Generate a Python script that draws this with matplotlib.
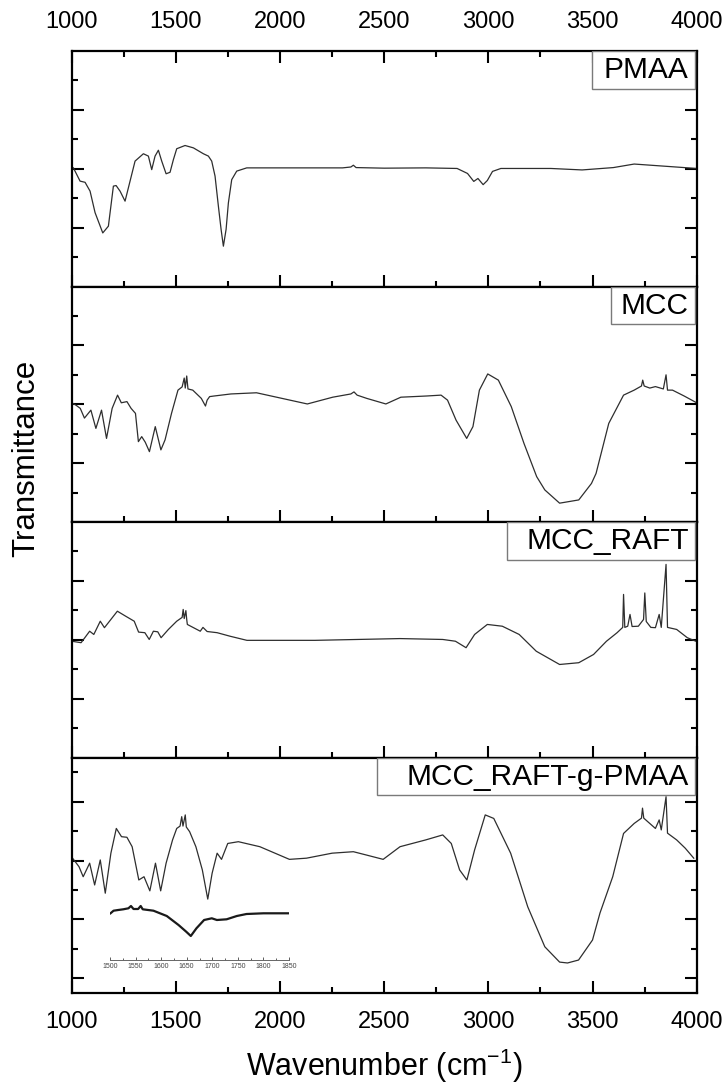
import matplotlib
matplotlib.use("Agg")
import matplotlib.pyplot as plt
from matplotlib.patches import Rectangle
from matplotlib.ticker import MultipleLocator, FixedLocator

plt.rcParams['font.family'] = ['Liberation Sans', 'DejaVu Sans']
plt.rcParams['mathtext.fontset'] = 'custom'
plt.rcParams['mathtext.rm'] = 'Liberation Sans'
plt.rcParams['mathtext.it'] = 'Liberation Sans:italic'

# spectra (wavenumber, transmittance in arbitrary panel units)
pmaa_wn = [1008, 1040, 1064, 1088, 1112, 1149, 1176, 1200, 1213, 1232, 1256, 1280, 1304, 1344,
           1368, 1384, 1400, 1416, 1432, 1453, 1472, 1488, 1504, 1544, 1584, 1632, 1656, 1672,
           1688, 1704, 1717, 1728, 1741, 1752, 1768, 1792, 1840, 2000, 2300, 2340, 2352, 2365,
           2500, 2700, 2850, 2900, 2930, 2950, 2975, 2995, 3020, 3060, 3300, 3450, 3600, 3700,
           3800, 3900, 4000]
pmaa_t = [4.03, 3.58, 3.54, 3.24, 2.51, 1.82, 2.05, 3.41, 3.43, 3.24, 2.90, 3.58, 4.26, 4.51,
          4.43, 3.97, 4.43, 4.63, 4.26, 3.83, 3.88, 4.31, 4.68, 4.79, 4.71, 4.51, 4.43, 4.26,
          3.75, 2.73, 1.94, 1.37, 1.94, 2.84, 3.63, 3.92, 4.03, 4.03, 4.03, 4.06, 4.12, 4.04,
          4.02, 4.03, 4.01, 3.84, 3.57, 3.67, 3.46, 3.60, 3.91, 4.01, 4.01, 3.96, 4.04, 4.16,
          4.11, 4.06, 4.01]

mcc_wn = [1000, 1020, 1041, 1061, 1092, 1116, 1143, 1167, 1194, 1220, 1238, 1265, 1285, 1306,
          1320, 1336, 1353, 1373, 1401, 1428, 1448, 1479, 1510, 1530, 1540, 1545, 1552, 1558,
          1581, 1622, 1642, 1650, 1662, 1683, 1764, 1887, 2009, 2131, 2253, 2340, 2355, 2370,
          2416, 2508, 2580, 2702, 2773, 2804, 2845, 2896, 2926, 2957, 2997, 3048, 3110, 3171,
          3232, 3271, 3342, 3434, 3495, 3517, 3578, 3649, 3700, 3735, 3741, 3748, 3775, 3802,
          3840, 3853, 3860, 3884, 3940, 4000]
mcc_t = [4.05, 3.97, 3.86, 3.53, 3.80, 3.18, 3.80, 2.84, 3.86, 4.31, 4.05, 4.09, 3.86, 3.69,
         2.73, 2.90, 2.71, 2.39, 3.24, 2.45, 2.79, 3.69, 4.48, 4.59, 4.89, 4.55, 4.96, 4.52,
         4.48, 4.20, 3.94, 4.14, 4.26, 4.28, 4.35, 4.39, 4.20, 4.01, 4.24, 4.35, 4.42, 4.31,
         4.20, 4.01, 4.24, 4.28, 4.31, 4.14, 3.46, 2.84, 3.24, 4.48, 5.03, 4.82, 3.92, 2.67,
         1.54, 1.09, 0.64, 0.75, 1.31, 1.65, 3.35, 4.31, 4.48, 4.62, 4.82, 4.62, 4.55, 4.60,
         4.52, 5.00, 4.48, 4.48, 4.28, 4.05]

raft_wn = [1000, 1045, 1086, 1106, 1137, 1157, 1219, 1259, 1300, 1321, 1351, 1372, 1392, 1413,
           1429, 1464, 1504, 1530, 1535, 1540, 1548, 1552, 1555, 1617, 1630, 1650, 1698, 1760,
           1841, 2168, 2576, 2781, 2842, 2893, 2934, 2995, 3067, 3148, 3230, 3342, 3434, 3505,
           3567, 3618, 3645, 3649, 3655, 3669, 3680, 3690, 3720, 3745, 3751, 3758, 3780, 3802,
           3820, 3830, 3853, 3860, 3904, 3955, 3996]
raft_t = [3.95, 3.90, 4.29, 4.18, 4.63, 4.41, 4.97, 4.80, 4.63, 4.26, 4.24, 4.01, 4.29, 4.27,
          4.07, 4.35, 4.63, 4.76, 5.03, 4.72, 4.99, 4.69, 4.52, 4.29, 4.42, 4.28, 4.24, 4.12,
          3.98, 3.98, 4.04, 4.01, 3.95, 3.73, 4.18, 4.52, 4.46, 4.18, 3.61, 3.16, 3.22, 3.50,
          3.95, 4.24, 4.42, 5.54, 4.42, 4.46, 4.86, 4.45, 4.46, 4.69, 5.59, 4.62, 4.42, 4.41,
          4.86, 4.42, 6.56, 4.42, 4.35, 4.07, 3.95]

graft_wn = [1004, 1035, 1055, 1086, 1110, 1137, 1161, 1188, 1214, 1239, 1265, 1290, 1322, 1347,
            1375, 1402, 1427, 1453, 1484, 1504, 1520, 1528, 1534, 1545, 1550, 1566, 1596, 1627,
            1653, 1674, 1698, 1719, 1749, 1800, 1903, 2045, 2127, 2250, 2352, 2413, 2495, 2576,
            2699, 2781, 2822, 2862, 2897, 2934, 2985, 3026, 3107, 3189, 3271, 3342, 3380, 3433,
            3500, 3536, 3597, 3649, 3700, 3735, 3740, 3746, 3802, 3820, 3830, 3853, 3860, 3904,
            3945, 3986]
graft_t = [4.08, 3.79, 3.45, 3.91, 3.17, 4.02, 2.89, 4.25, 5.09, 4.81, 4.79, 4.47, 3.34, 3.45,
           2.97, 3.91, 2.97, 3.91, 4.70, 5.09, 5.17, 5.49, 5.17, 5.55, 5.14, 4.98, 4.47, 3.68,
           2.69, 3.57, 4.25, 4.04, 4.58, 4.64, 4.47, 4.04, 4.08, 4.25, 4.30, 4.19, 4.04, 4.47,
           4.70, 4.87, 4.58, 3.68, 3.34, 4.36, 5.55, 5.43, 4.25, 2.43, 1.07, 0.55, 0.52, 0.62,
           1.30, 2.22, 3.45, 4.92, 5.26, 5.44, 5.78, 5.44, 5.09, 5.38, 5.04, 6.17, 4.93, 4.70,
           4.42, 4.08]

inset_wn = [1501, 1507, 1516, 1526, 1536, 1541, 1546, 1555, 1560, 1564, 1585, 1611, 1634, 1649,
            1658, 1669, 1684, 1699, 1709, 1728, 1748, 1767, 1800, 1850]
inset_t = [4.67, 4.93, 5.0, 5.07, 5.17, 5.4, 5.1, 5.1, 5.4, 5.07, 4.93, 4.4, 3.5, 2.83,
           2.4, 3.17, 4.0, 4.17, 4.0, 4.07, 4.4, 4.6, 4.67, 4.67]

names = ['PMAA', 'MCC', 'MCC_RAFT', 'MCC_RAFT-g-PMAA']
xs = [pmaa_wn, mcc_wn, raft_wn, graft_wn]
ys = [pmaa_t, mcc_t, raft_t, graft_t]
box_left = [0.8325, 0.8627, 0.6958, 0.4882]

fig, axes = plt.subplots(4, 1, figsize=(7.26, 10.83), dpi=100, sharex=True,
                         gridspec_kw={'hspace': 0})
fig.subplots_adjust(left=0.0988, right=0.9596, top=0.9529, bottom=0.0831)

for i, ax in enumerate(axes):
    ax.plot(xs[i], ys[i], color='#2e2e2e', lw=0.9)
    ax.set_xlim(1000, 4000)
    if i < 3:
        ax.set_ylim(0, 8)
        ax.yaxis.set_major_locator(FixedLocator([2, 4, 6]))
        ax.yaxis.set_minor_locator(FixedLocator([1, 3, 5, 7]))
    else:
        ax.set_ylim(-0.5, 7.5)
        ax.yaxis.set_major_locator(FixedLocator([0, 2, 4, 6]))
        ax.yaxis.set_minor_locator(FixedLocator([1, 3, 5, 7]))
    ax.xaxis.set_major_locator(MultipleLocator(500))
    ax.xaxis.set_minor_locator(MultipleLocator(250))
    for s in ax.spines.values():
        s.set_linewidth(1.6)
    ax.tick_params(which='both', direction='in', left=True, right=True,
                   bottom=True, top=(i == 0), labelleft=False,
                   labelbottom=(i == 3), labeltop=(i == 0), width=1.5,
                   labelsize=17, pad=13)
    ax.tick_params(which='major', length=8.5)
    ax.tick_params(which='minor', length=4.5)
    ax.add_patch(Rectangle((box_left[i], 0.839), 0.997 - box_left[i], 0.161,
                           transform=ax.transAxes, facecolor='white',
                           edgecolor='#7a7a7a', lw=1.0, zorder=3))
    ax.text(0.987, 0.919, names[i], transform=ax.transAxes, ha='right',
            va='center', fontsize=21.5, zorder=4)

fig.text(384 / 726, 1 - 1076 / 1083, 'Wavenumber (cm$^{-1}$)', ha='center',
         va='baseline', fontsize=22)
fig.text(0.036, 0.577, 'Transmittance', rotation=90, ha='center', va='center',
         fontsize=22.5)

ins = fig.add_axes([110 / 726, 1 - 960 / 1083, 179 / 726, 60 / 1083])
ins.patch.set_alpha(0)
ins.plot(inset_wn, inset_t, color='#1a1a1a', lw=1.6)
ins.set_xlim(1500, 1850)
ins.set_ylim(0, 6)
for side in ['left', 'right', 'top']:
    ins.spines[side].set_visible(False)
ins.spines['bottom'].set_color('#666666')
ins.spines['bottom'].set_linewidth(0.7)
ins.set_yticks([])
ins.xaxis.set_major_locator(MultipleLocator(50))
ins.xaxis.set_minor_locator(MultipleLocator(25))
ins.tick_params(which='both', direction='in', labelsize=5, pad=2,
                colors='#444444', width=0.6)
ins.tick_params(which='major', length=2.5)
ins.tick_params(which='minor', length=1.5)

fig.savefig('out.png', dpi=100)
